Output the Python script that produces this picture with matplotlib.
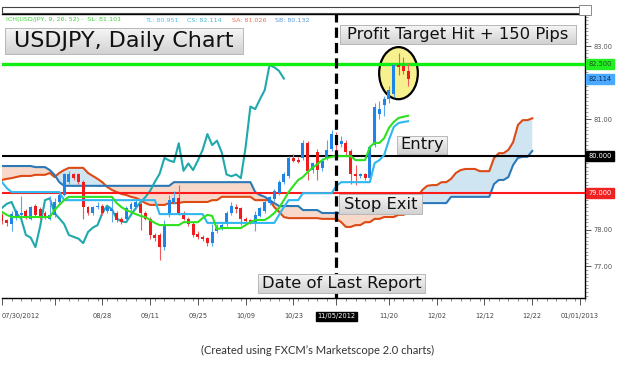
import matplotlib
matplotlib.use('Agg')
import matplotlib.pyplot as plt
from matplotlib.patches import Rectangle, Ellipse
from matplotlib.ticker import MultipleLocator
from matplotlib.colors import LinearSegmentedColormap
import matplotlib.transforms as mtransforms
import numpy as np

W, H = 624, 366

# ---------------- data ----------------
opens = [78.40, 78.25, 78.15, 78.35, 78.40, 78.50, 78.30, 78.65, 78.55, 78.45,
         78.30, 78.40, 78.75, 78.95, 79.30, 79.50, 79.50, 79.30, 78.60, 78.45,
         78.60, 78.65, 78.50, 78.50, 78.45, 78.30, 78.30, 78.55, 78.60, 78.70,
         78.45, 78.30, 77.85, 77.85, 77.52, 78.40, 78.75, 78.85, 78.45, 78.30,
         78.15, 77.87, 77.80, 77.77, 77.63, 77.95, 78.05, 78.15, 78.45, 78.62,
         78.58, 78.30, 78.25, 78.20, 78.38, 78.50, 78.72, 78.82, 79.00, 79.30,
         79.45, 79.95, 79.90, 79.95, 80.35, 79.62, 80.10, 79.67, 79.95, 80.20,
         80.55, 80.32, 80.36, 80.15, 79.52, 79.45, 79.50, 79.40, 80.30, 81.15,
         81.38, 81.55, 81.68, 82.48, 82.45, 82.32]
highs = [78.45, 78.30, 78.50, 78.55, 78.90, 78.55, 78.65, 78.70, 78.60, 78.50,
         78.90, 78.85, 79.00, 79.55, 79.60, 79.55, 79.55, 79.35, 78.65, 78.65,
         78.75, 78.70, 78.65, 78.90, 78.50, 78.35, 78.65, 78.75, 78.80, 78.75,
         78.50, 78.35, 77.90, 77.90, 78.25, 78.95, 79.05, 79.20, 78.50, 78.35,
         78.20, 77.95, 77.85, 77.80, 78.15, 78.15, 78.20, 78.50, 78.75, 78.70,
         78.62, 78.35, 78.30, 78.50, 78.62, 78.80, 78.92, 79.10, 79.35, 79.58,
         80.00, 80.05, 79.98, 80.45, 80.40, 79.85, 80.20, 79.95, 80.45, 80.70,
         80.65, 80.55, 80.45, 80.20, 79.75, 79.55, 79.55, 80.30, 81.45, 81.50,
         81.65, 81.90, 82.50, 82.80, 82.70, 82.55]
lows = [78.15, 78.10, 77.95, 78.25, 78.35, 78.30, 78.25, 78.35, 78.30, 78.30,
        78.25, 78.35, 78.70, 78.90, 79.25, 79.35, 79.25, 78.30, 78.40, 78.40,
        78.55, 78.40, 78.45, 78.20, 78.20, 78.15, 78.25, 78.50, 78.55, 78.00,
        78.25, 77.75, 77.70, 77.17, 77.45, 78.35, 78.70, 78.40, 78.25, 78.10,
        77.80, 77.75, 77.70, 77.55, 77.55, 77.90, 78.00, 78.10, 78.40, 78.45,
        78.12, 78.15, 78.15, 77.95, 78.35, 78.45, 78.68, 78.78, 78.95, 79.25,
        79.40, 79.85, 79.80, 79.90, 79.35, 79.55, 79.35, 79.60, 79.90, 80.15,
        80.15, 80.25, 80.00, 79.25, 79.20, 79.40, 79.35, 79.35, 80.25, 81.00,
        81.10, 81.45, 81.60, 82.20, 82.25, 81.90]
closes = [78.22, 78.18, 78.42, 78.50, 78.45, 78.35, 78.60, 78.40, 78.35, 78.35,
          78.40, 78.75, 78.95, 79.50, 79.50, 79.40, 79.30, 78.60, 78.45, 78.60,
          78.65, 78.45, 78.60, 78.55, 78.25, 78.20, 78.59, 78.70, 78.75, 78.45,
          78.30, 77.85, 77.78, 77.52, 78.10, 78.80, 78.85, 78.45, 78.30, 78.15,
          77.85, 77.80, 77.75, 77.63, 77.93, 78.05, 78.12, 78.45, 78.65, 78.55,
          78.30, 78.22, 78.20, 78.40, 78.58, 78.75, 78.88, 79.05, 79.30, 79.52,
          79.95, 79.88, 79.84, 80.35, 79.60, 79.80, 79.62, 79.88, 80.17, 80.60,
          80.30, 80.42, 80.10, 79.50, 79.45, 79.50, 79.40, 80.25, 81.35, 81.28,
          81.55, 81.80, 82.48, 82.42, 82.32, 82.114]

tenkan = [78.48, 78.40] + [78.34] * 9 + [78.53, 78.67, 78.80] + [78.89] * 10 + \
         [78.72, 78.61, 78.53, 78.48, 78.42, 78.37, 78.34, 78.26, 78.18] + [78.12] * 5 + \
         [78.20] * 4 + [78.31, 78.40, 78.37, 78.01] + [78.04] * 5 + [78.12, 78.20] + \
         [78.26] * 3 + [78.34, 78.45, 78.59, 78.80, 79.02, 79.19, 79.35, 79.43, 79.57,
                        79.68, 79.78, 79.89, 79.95, 79.98] + [80.00] * 4 + [79.89] * 3 + \
         [80.25, 80.36, 80.36, 80.49, 80.77, 80.93, 81.04, 81.07, 81.10]

kijun = [79.29, 79.13] + [79.02] * 11 + [78.80] * 20 + [78.42] * 10 + [78.18] * 15 + \
        [78.40, 78.61] + [78.80] * 3 + [78.99] * 7 + [79.19] + [79.29] * 7 + \
        [79.81, 79.89, 80.03, 80.44, 80.79, 80.90, 80.93, 80.95]

senkou_a = [79.35, 79.38, 79.40, 79.43] + [79.46] * 3 + [79.49] * 3 + \
           [79.54, 79.43, 79.54, 79.62] + [79.68] * 4 + \
           [79.54, 79.46, 79.38, 79.29, 79.16, 79.08, 79.02, 78.97, 78.94, 78.89, 78.86,
            78.80, 78.72] + [78.67] * 4 + [78.72] * 3 + [78.75] * 6 + [78.80] * 2 + \
           [78.89] * 7 + [78.80] * 4 + [78.61, 78.48, 78.34] + [78.31] * 7 + [78.29] * 4 + \
           [78.20, 78.07, 78.07, 78.12, 78.12, 78.20, 78.20, 78.29, 78.29, 78.34, 78.34,
            78.34, 78.40, 78.40, 78.45, 78.67, 78.89, 79.08, 79.19, 79.21, 79.21, 79.29,
            79.29, 79.38, 79.54, 79.62, 79.65, 79.65, 79.65, 79.59, 79.59, 79.59, 79.95,
            80.08, 80.08, 80.17, 80.38, 80.85, 80.98, 80.98, 81.03]

senkou_b = [79.73] * 7 + [79.70] * 3 + [79.62, 79.49, 79.29] + [79.19] * 23 + \
           [79.29] * 17 + [79.02, 78.94, 78.89, 78.80, 78.72] + [78.64] * 5 + \
           [78.53] * 4 + [78.45] * 19 + [78.48, 78.61] + [78.72] * 6 + [78.89] * 9 + \
           [79.24, 79.35, 79.35, 79.43, 79.76, 79.95, 79.98, 79.98, 80.14]

chikou_shift = 26
xtick_pos = [0, 11, 21, 31, 41, 51, 61, 70, 81, 91, 101, 111, 121]
xtick_labels = ['07/30/2012', '', '08/28', '09/11', '09/25', '10/09', '10/23',
                '11/05/2012', '11/20', '12/02', '12/12', '12/22', '01/01/2013']
ytick_pos = [77, 78, 79, 80, 81, 82, 83]
# 79.00 and 80.00 are hidden behind the level tags in the reference
ytick_labels = ['77.00', '78.00', '', '', '81.00', '82.00', '83.00']
profit_target = 82.5
entry_level = 80.0
stop_level = 79.0
last_close = 82.114
report_bar = 70

# ---------------- figure ----------------
fig = plt.figure(figsize=(W / 100, H / 100), dpi=100)
fig.patch.set_facecolor('white')

L, R, T, B = 2, 585, 14, 298
ax = fig.add_axes([L / W, 1 - B / H, (R - L) / W, (B - T) / H])
ax.set_xlim(0.58, 122.04)
ax.set_ylim(76.134, 83.872)
ax.set_facecolor('white')

n = len(closes)
xb = np.arange(n)
o = np.array(opens); c = np.array(closes); hi = np.array(highs); lo = np.array(lows)

# cloud
xa = np.arange(len(senkou_a))
sa = np.array(senkou_a); sb = np.array(senkou_b)
ax.fill_between(xa, sa, sb, where=sa >= sb, interpolate=True, color='#cfe5f2', lw=0, zorder=1)
ax.fill_between(xa, sa, sb, where=sa < sb, interpolate=True, color='#f8d9c9', lw=0, zorder=1)
ax.plot(xa, sa, color='#dd4a14', lw=1.5, zorder=2, solid_joinstyle='round')
ax.plot(xa, sb, color='#2b78b8', lw=1.5, zorder=2, solid_joinstyle='round')

# chikou
ax.plot(xb[chikou_shift:] - chikou_shift, c[chikou_shift:], color='#1fa9ac', lw=1.5, zorder=3)

# horizontal levels
ax.axhline(entry_level, color='black', lw=1.5, zorder=3)
ax.axhline(stop_level, color='#ff1a1a', lw=1.5, zorder=3)

# ellipse highlight
ax.add_patch(Ellipse((83.0, 82.26), 8.1, 1.42, fc='#f6f08e', ec='black', lw=1.6, zorder=3.5))
ax.axhline(profit_target, color='#11ee11', lw=2.4, zorder=3.6)

# candles
up = c >= o
col = np.where(up, '#1e84e6', '#ee1c1c')
wick_col = np.where(up, '#5aa6ee', '#f05a5a')
ax.vlines(xb, lo, hi, colors=wick_col, lw=0.8, zorder=4)
body_lo = np.minimum(o, c)
body_h = np.maximum(np.abs(c - o), 0.025)
ax.bar(xb, body_h, bottom=body_lo, width=0.62, color=col, lw=0, zorder=4.5)

# tenkan / kijun
ax.plot(xb, kijun, color='#2fb8f0', lw=1.5, zorder=5)
ax.plot(xb, tenkan, color='#2ee11e', lw=1.5, zorder=5.1)

# report date line
ax.axvline(report_bar, color='black', lw=2.3, ls=(0, (3.2, 1.6)), zorder=6)

# axes styling
ax.spines['left'].set_visible(False)
for s in ['top', 'right', 'bottom']:
    ax.spines[s].set_color('black')
    ax.spines[s].set_linewidth(1.0)

ax.set_xticks(xtick_pos)
ax.set_xticklabels(xtick_labels)
ax.xaxis.set_minor_locator(MultipleLocator(2))
ax.tick_params(axis='x', which='major', direction='out', length=5, width=0.7, color='#555',
               labelsize=4.8, labelcolor='#444', pad=6)
ax.tick_params(axis='x', which='minor', direction='out', length=2.5, width=0.6, color='#777')
xl = ax.get_xticklabels()
xl[0].set_ha('left')
xl[7].set_color('white')
xl[7].set_bbox(dict(boxstyle='square,pad=0.25', fc='black', ec='black'))

ax.yaxis.tick_right()
ax.set_yticks(ytick_pos)
ax.set_yticklabels(ytick_labels)
ax.yaxis.set_minor_locator(MultipleLocator(0.1))
ax.tick_params(axis='y', which='major', direction='out', length=4, width=0.7, color='#555',
               labelsize=4.8, labelcolor='#555', pad=2)
ax.tick_params(axis='y', which='minor', direction='out', length=2, width=0.5, color='#777')

# right side value tags
bt = mtransforms.blended_transform_factory(ax.transAxes, ax.transData)
tags = [(profit_target, '82.500', '#22ee22', '#225522'),
        (last_close, '82.114', '#4aa8ff', '#0a2a55'),
        (entry_level, '80.000', 'black', 'white'),
        (stop_level, '79.000', '#ee2222', 'white')]
for val, txt, fc, tc in tags:
    ax.text(1.006, val, txt, transform=bt, ha='left', va='center', fontsize=4.8,
            color=tc, clip_on=False, zorder=20,
            bbox=dict(boxstyle='square,pad=0.3', fc=fc, ec=fc))

# ---------------- figure-level annotations ----------------
def fx(x):
    return x / W

def fy(y):
    return 1 - y / H

grad_cmap = LinearSegmentedColormap.from_list('boxgrad', ['#f6f6f6', '#d2d2d2'])
grad = np.linspace(0, 1, 64).reshape(-1, 1)

def label_box(x0, y0, x1, y1, text, fs):
    bax = fig.add_axes([fx(x0), fy(y1), (x1 - x0) / W, (y1 - y0) / H], zorder=10)
    bax.imshow(grad, aspect='auto', cmap=grad_cmap, extent=(0, 1, 0, 1), origin='upper')
    bax.set_xlim(0, 1); bax.set_ylim(0, 1)
    bax.set_xticks([]); bax.set_yticks([])
    for sp in bax.spines.values():
        sp.set_color('#b8b8b8'); sp.set_linewidth(0.7)
    bax.text(0.5, 0.5, text, ha='center', va='center', fontsize=fs, color='#111',
             transform=bax.transAxes)

label_box(5, 28, 243, 54, 'USDJPY, Daily Chart', 16)
label_box(340, 25, 576, 44, 'Profit Target Hit + 150 Pips', 11.8)
label_box(397, 136, 447, 154, 'Entry', 11.8)
label_box(339, 194, 422, 214, 'Stop Exit', 11.8)
label_box(258, 274, 425, 293, 'Date of Last Report', 11.8)

# indicator legend
legend_parts = [(6, 'ICH(USD/JPY, 9, 26, 52) -  SL: 81.101', '#3fd43f'),
                (145, 'TL: 80.951', '#4cc0f5'),
                (187, 'CS: 82.114', '#4cb8c8'),
                (232, 'SA: 81.026', '#ee7252'),
                (275, 'SB: 80.132', '#5a98d8')]
for x0, txt, colr in legend_parts:
    fig.text(fx(x0), fy(20), txt, ha='left', va='center', fontsize=4.6, color=colr, zorder=12)

# top scroll strip
fig.patches.append(Rectangle((fx(2), fy(13)), (583 - 2) / W, 6 / H, transform=fig.transFigure,
                             fc='white', ec='#444', lw=0.8, zorder=10))
for tx in [93, 255, 417]:
    fig.lines.append(plt.Line2D([fx(tx), fx(tx)], [fy(7), fy(9)], transform=fig.transFigure,
                                color='#666', lw=0.6))
fig.patches.append(Rectangle((fx(579), fy(15)), 12 / W, 10 / H, transform=fig.transFigure,
                             fc='white', ec='#777', lw=0.6, zorder=10))

fig.text(fx(318), fy(350), '(Created using FXCM\u2019s Marketscope 2.0 charts)', ha='center',
         va='center', fontsize=8, color='#333', family=['Lato', 'DejaVu Sans'])

fig.savefig('out.png', dpi=100)
